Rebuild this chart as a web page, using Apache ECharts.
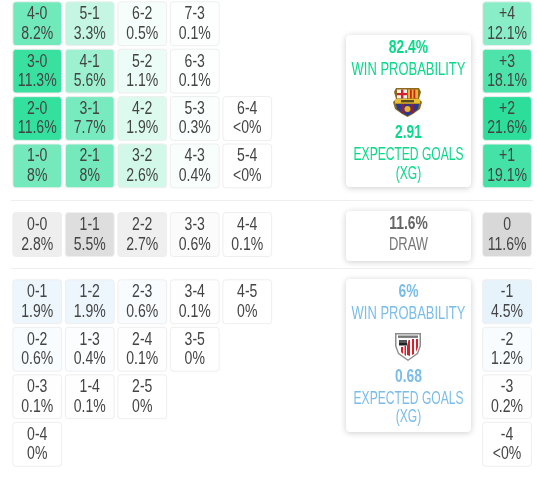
<!DOCTYPE html>
<html>
<head>
<meta charset="utf-8">
<style>
  html, body { margin: 0; padding: 0; background: #fff; }
  #chart { width: 537px; height: 477px; }
</style>
<script src="https://cdn.jsdelivr.net/npm/echarts@6/dist/echarts.min.js"></script>
</head>
<body>
<div id="chart"></div>
<script>
var homeScores = ["4-0","5-1","6-2","7-3","3-0","4-1","5-2","6-3","2-0","3-1","4-2","5-3","6-4","1-0","2-1","3-2","4-3","5-4"];
var homeLabels = ["8.2%","3.3%","0.5%","0.1%","11.3%","5.6%","1.1%","0.1%","11.6%","7.7%","1.9%","0.3%","<0%","8%","8%","2.6%","0.4%","<0%"];
var drawScores = ["0-0","1-1","2-2","3-3","4-4"];
var drawLabels = ["2.8%","5.5%","2.7%","0.6%","0.1%"];
var awayScores = ["0-1","1-2","2-3","3-4","4-5","0-2","1-3","2-4","3-5","0-3","1-4","2-5","0-4"];
var awayLabels = ["1.9%","1.9%","0.6%","0.1%","0%","0.6%","0.4%","0.1%","0%","0.1%","0.1%","0%","0%"];

var homeMargins = ["+4","+3","+2","+1"];
var homeMarginLabels = ["12.1%","18.1%","21.6%","19.1%"];
var drawMargins = ["0"];
var drawMarginLabels = ["11.6%"];
var awayMargins = ["-1","-2","-3","-4"];
var awayMarginLabels = ["4.5%","1.2%","0.2%","<0%"];

var homeCard = ["82.4%","WIN PROBABILITY","2.91","EXPECTED GOALS","(XG)"];
var drawCard = ["11.6%","DRAW"];
var awayCard = ["6%","WIN PROBABILITY","0.68","EXPECTED GOALS","(XG)"];

// no condensed face is installed, so the text is squeezed horizontally
var FONT = '"Liberation Sans", sans-serif';
var TILE_SQUEEZE = 0.78;
var CARD_SQUEEZE = 0.72;
var BOLD_SQUEEZE = 0.77;
var GOALS_SQUEEZE = 0.67;
var HOME_RGB = "10,217,138";
var DRAW_RGB = "170,170,170";
var AWAY_RGB = "123,189,233";
var goalCols = ["0","1","2","3","4"];

var chartDom = document.getElementById("chart");
var myChart = echarts.init(chartDom, null, { renderer: "canvas" });

function pctValue(label) {
  return parseFloat(label.replace("<", ""));
}

// tile tint grows with the probability, margin tiles use a wider scale
function tileFill(rgb, label, scale) {
  var alpha = Math.min(1, pctValue(label) / scale);
  return "rgba(" + rgb + "," + alpha.toFixed(3) + ")";
}

function tileText(text, x, y) {
  return {
    type: "text",
    x: x,
    y: y,
    scaleX: TILE_SQUEEZE,
    style: { text: text, fill: "#444", font: "18px " + FONT, align: "center", verticalAlign: "middle" },
  };
}

function renderTile(params, api) {
  var center = api.coord([api.value(0), api.value(1)]);
  var band = api.size([1, 1]);
  var w = band[0] - 3.7;
  var h = band[1] - 3.6;
  var item = params.context.rows[params.dataIndex];
  return {
    type: "group",
    children: [
      {
        type: "rect",
        shape: { x: center[0] - w / 2, y: center[1] - h / 2, width: w, height: h, r: 3 },
        style: { fill: item.fill, stroke: "#eeeeee", lineWidth: 1 },
      },
      tileText(item.top, center[0], center[1] - 9.5),
      tileText(item.bottom, center[0], center[1] + 10),
    ],
  };
}

function tileSeries(index, rows) {
  return {
    type: "custom",
    xAxisIndex: index,
    yAxisIndex: index,
    coordinateSystem: "cartesian2d",
    silent: true,
    clip: false,
    renderItem: function (params, api) {
      params.context.rows = rows;
      return renderTile(params, api);
    },
    encode: { x: 0, y: 1 },
    data: rows.map(function (r) { return [r.x, r.y]; }),
  };
}

// a score a-b sits in the column of the losing side's goals and the row of the margin
function scoreRows(scores, labels, margins, rgb) {
  return scores.map(function (s, i) {
    var parts = s.split("-").map(Number);
    var margin = Math.abs(parts[0] - parts[1]);
    var rowName = margins.filter(function (m) { return Math.abs(Number(m)) === margin; })[0];
    return {
      x: Math.min(parts[0], parts[1]),
      y: margins.indexOf(rowName),
      top: s,
      bottom: labels[i],
      fill: tileFill(rgb, labels[i], 14),
    };
  });
}

function marginRows(margins, labels, rgb) {
  return margins.map(function (m, i) {
    return { x: 0, y: i, top: m, bottom: labels[i], fill: tileFill(rgb, labels[i], 25) };
  });
}

var hiddenAxis = { show: false, type: "category" };
var sections = [
  { top: -0.4, height: 190, cats: homeMargins },
  { top: 210.8, height: 47.5, cats: drawMargins },
  { top: 278, height: 190, cats: awayMargins },
];

var grids = [], xAxes = [], yAxes = [];
sections.forEach(function (sec) {
  grids.push({ left: 11, width: 262.5, top: sec.top, height: sec.height });
  xAxes.push(Object.assign({}, hiddenAxis, { data: goalCols, gridIndex: grids.length - 1 }));
  yAxes.push(Object.assign({}, hiddenAxis, { data: sec.cats, inverse: true, gridIndex: grids.length - 1 }));
  grids.push({ left: 480.8, width: 52.5, top: sec.top, height: sec.height });
  xAxes.push(Object.assign({}, hiddenAxis, { data: ["all"], gridIndex: grids.length - 1 }));
  yAxes.push(Object.assign({}, hiddenAxis, { data: sec.cats, inverse: true, gridIndex: grids.length - 1 }));
});

var series = [
  tileSeries(0, scoreRows(homeScores, homeLabels, homeMargins, HOME_RGB)),
  tileSeries(1, marginRows(homeMargins, homeMarginLabels, HOME_RGB)),
  tileSeries(2, scoreRows(drawScores, drawLabels, drawMargins, DRAW_RGB)),
  tileSeries(3, marginRows(drawMargins, drawMarginLabels, DRAW_RGB)),
  tileSeries(4, scoreRows(awayScores, awayLabels, awayMargins, AWAY_RGB)),
  tileSeries(5, marginRows(awayMargins, awayMarginLabels, AWAY_RGB)),
];

function cardBox(top, height) {
  return {
    type: "rect",
    shape: { x: 346, y: top, width: 125, height: height, r: 4 },
    style: { fill: "#fff", shadowBlur: 6, shadowColor: "rgba(0,0,0,0.2)", shadowOffsetY: 1 },
  };
}

function cardText(text, y, color, bold, squeeze) {
  return {
    type: "text",
    x: 408.5,
    y: y,
    scaleX: squeeze || (bold ? BOLD_SQUEEZE : CARD_SQUEEZE),
    style: {
      text: text,
      fill: color,
      font: (bold ? "bold " : "") + "18px " + FONT,
      align: "center",
      verticalAlign: "middle",
    },
  };
}

function poly(points, fill) {
  return { type: "polygon", shape: { points: points }, style: { fill: fill } };
}
function box(x, y, w, h, fill) {
  return { type: "rect", shape: { x: x, y: y, width: w, height: h }, style: { fill: fill } };
}

// small hand drawn versions of the two club crests
function barcaCrest() {
  return {
    type: "group",
    x: 393,
    y: 87,
    children: [
      poly([[3,1],[26,1],[28,5],[26,12],[29,15],[27,22],[20,27],[14.5,30],[9,27],[2,22],[0,15],[3,12],[1,5]], "#8a6a1c"),
      box(4, 2.5, 10, 9, "#f4f0e8"),
      box(8, 2.5, 2.4, 9, "#d2202c"),
      box(4, 6, 10, 2.2, "#d2202c"),
      box(15, 2.5, 10, 9, "#e8b428"),
      box(17, 2.5, 1.8, 9, "#c8242c"),
      box(20.5, 2.5, 1.8, 9, "#c8242c"),
      box(2, 12, 25, 4.5, "#e8c030"),
      box(8, 13, 13, 2.4, "#5a4a20"),
      poly([[3,17],[26,17],[25,22],[20,26],[14.5,29],[9,26],[4,22]], "#2a3a8a"),
      box(8, 17, 3.4, 9, "#9a1a3c"),
      box(17.6, 17, 3.4, 9, "#9a1a3c"),
      { type: "circle", shape: { cx: 14.5, cy: 22, r: 3 }, style: { fill: "#e8b428" } },
    ],
  };
}

function athleticCrest() {
  return {
    type: "group",
    x: 395,
    y: 332,
    children: [
      poly([[0,1],[26,1],[26,14],[23,22],[13,29],[3,22],[0,14]], "#8c8c8c"),
      poly([[1.5,2.5],[24.5,2.5],[24.5,14],[22,21],[13,27.5],[4,21],[1.5,14]], "#ffffff"),
      box(3, 3.5, 20, 2.4, "#777"),
      box(4, 8, 8, 5, "#555"),
      box(4, 11, 8, 2.5, "#222"),
      poly([[12,14],[13.5,8],[15,8],[15,24],[12,23]], "#d8202c"),
      poly([[17,7],[19,7],[19,22],[17,23]], "#d8202c"),
      poly([[21,7],[23,7],[23,15],[21,20]], "#d8202c"),
      poly([[6,15],[8,15],[8,22],[6,20]], "#d8202c"),
      poly([[9.5,14],[11,14],[11,24],[9.5,23]], "#d8202c"),
    ],
  };
}

function separator(y) {
  return { type: "line", shape: { x1: 11, y1: y, x2: 533, y2: y }, style: { stroke: "#eeeeee", lineWidth: 1 } };
}

var HOME_COLOR = "#0bd98a";
var AWAY_COLOR = "#7bbde9";

var graphicItems = [
  separator(200.5),
  separator(268.5),
  cardBox(35, 152),
  cardText(homeCard[0], 48, HOME_COLOR, true),
  cardText(homeCard[1], 70, HOME_COLOR, false),
  barcaCrest(),
  cardText(homeCard[2], 133, HOME_COLOR, true),
  cardText(homeCard[3], 155, HOME_COLOR, false, GOALS_SQUEEZE),
  cardText(homeCard[4], 174, HOME_COLOR, false, GOALS_SQUEEZE),
  cardBox(211, 50),
  cardText(drawCard[0], 224, "#666", true),
  cardText(drawCard[1], 245, "#777", false),
  cardBox(279, 153),
  cardText(awayCard[0], 292, AWAY_COLOR, true),
  cardText(awayCard[1], 314, AWAY_COLOR, false),
  athleticCrest(),
  cardText(awayCard[2], 377, AWAY_COLOR, true),
  cardText(awayCard[3], 399, AWAY_COLOR, false, GOALS_SQUEEZE),
  cardText(awayCard[4], 417, AWAY_COLOR, false, GOALS_SQUEEZE),
];

var option = {
  animation: false,
  backgroundColor: "#fff",
  tooltip: { show: false },
  grid: grids,
  xAxis: xAxes,
  yAxis: yAxes,
  series: series,
  graphic: { elements: graphicItems },
};
myChart.setOption(option);
</script>
</body>
</html>
